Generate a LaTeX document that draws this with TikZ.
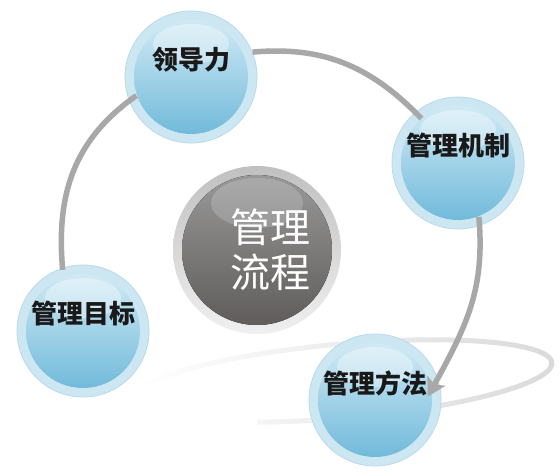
\documentclass[tikz,border=0pt]{standalone}
\usepackage{fontspec}
\newfontfamily\cjk{Noto Sans CJK SC}
\usetikzlibrary{arrows.meta,fadings}
\definecolor{ringblue}{RGB}{204,231,242}
\definecolor{ringedge}{RGB}{184,218,233}
\definecolor{balltop}{RGB}{216,238,247}
\definecolor{ballbot}{RGB}{106,182,216}
\definecolor{hubring}{RGB}{192,192,192}
\definecolor{hubtop}{RGB}{156,156,156}
\definecolor{hubbot}{RGB}{92,89,87}
\definecolor{arcgray}{RGB}{168,168,168}
\definecolor{orbit}{RGB}{216,216,216}
\tikzfading[name=orbitfade, left color=transparent!100, right color=transparent!0]

\begin{document}
\begin{tikzpicture}[x=1pt,y=1pt,
  ball/.style={circle, minimum size=132pt, inner sep=0pt, fill=ringblue, draw=ringedge, line width=0.8pt,
    path picture={
      \fill[top color=balltop, bottom color=ballbot] (path picture bounding box.center) circle (57pt);
      \fill[white, opacity=.35] ([yshift=33pt]path picture bounding box.center) ellipse (38pt and 20pt);}},
  lbl/.style={yshift=17pt, font=\cjk\bfseries\fontsize{26}{30}\selectfont, text=black!90},
  hub/.style={circle, minimum size=168pt, inner sep=0pt, top color=hubring, bottom color=white!94!black,
    path picture={
      \fill[top color=hubtop, bottom color=hubbot] (path picture bounding box.center) circle (75pt);
      \fill[white, opacity=.18] ([yshift=47pt]path picture bounding box.center) ellipse (46pt and 25pt);}},
  flow/.style={line width=5.5pt, draw=arcgray}]
\fill[white] (0,0) rectangle (560,474);
\useasboundingbox (0,0) rectangle (560,474);
% orbit ring at the bottom
\draw[orbit, line width=5pt, path fading=orbitfade, rotate around={5:(343,93)}]
  ([shift={(160:210 and 37)}]343,93) arc[start angle=160, end angle=-115, x radius=210, y radius=37];
% centre
\node[hub, label={[xshift=13pt, font=\cjk\fontsize{40}{45}\selectfont, text=white, align=center]center:管理\\流程}] (liucheng) at (257,224) {};
% the four balls
\foreach \n/\x/\y/\t in {lingdao/191/397/领导力, jizhi/458/311/管理机制, fangfa/375/74/管理方法, mubiao/83/143/管理目标}
  { \node[ball, label={[lbl]center:\t}] (\n) at (\x,\y) {}; }
% flow
\draw[flow, shorten <=-2pt, shorten >=-9pt] (mubiao.108) to[out=95, in=215] (lingdao.201);
\draw[flow, shorten >=-9pt] (lingdao.22) to[out=5, in=134] (jizhi.130);
\draw[flow, -{Stealth[length=18pt, width=20pt, inset=4pt]}, shorten <=-9pt, shorten >=-21pt] (jizhi.-71) to[out=-85, in=61] (fangfa.19);
\end{tikzpicture}
\end{document}
